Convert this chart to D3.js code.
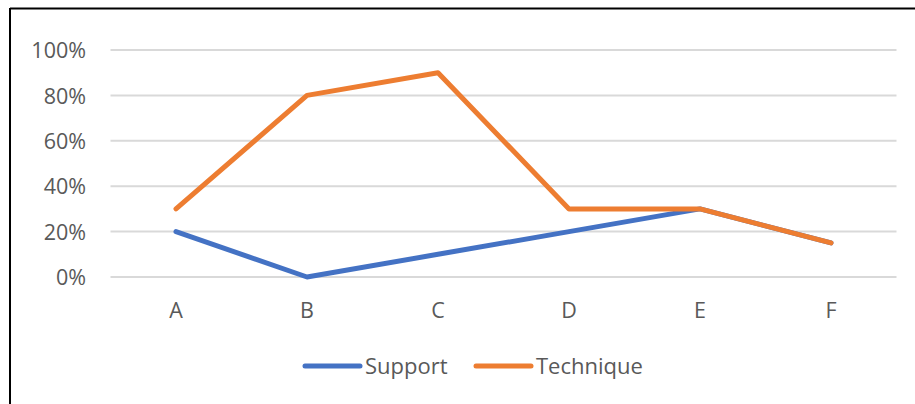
<!DOCTYPE html>
<html><head><meta charset="utf-8">
<script src="https://cdn.jsdelivr.net/npm/d3@7"></script>
<style>html,body{margin:0;padding:0;background:#fff;}svg{display:block;}</style>
</head><body>
<script>
const categories = ["A","B","C","D","E","F"];
const support = [0.20, 0.00, 0.10, 0.20, 0.30, 0.15];
const technique = [0.30, 0.80, 0.90, 0.30, 0.30, 0.15];
const yTicks = [0, 0.2, 0.4, 0.6, 0.8, 1.0];
const seriesNames = ["Support", "Technique"];
const colors = ["#4472C4", "#ED7D31"];

const W = 915, H = 404;
const svg = d3.select("body").append("svg").attr("width", W).attr("height", H);
const font = "'Open Sans', Lato, sans-serif";

// frame
svg.append("line").attr("x1", 10).attr("x2", W).attr("y1", 8.5).attr("y2", 8.5).attr("stroke", "#000").attr("stroke-width", 2);
svg.append("line").attr("x1", 10).attr("x2", 10).attr("y1", 8).attr("y2", H).attr("stroke", "#000").attr("stroke-width", 2);

const x = d3.scaleBand().domain(categories).range([110.5, 896.5]);
const y = d3.scaleLinear().domain([0, 1]).range([277, 50]);

// gridlines
svg.append("g").selectAll("line").data(yTicks).join("line")
  .attr("x1", 110.5).attr("x2", 896.5)
  .attr("y1", d => y(d)).attr("y2", d => y(d))
  .attr("stroke", "#d9d9d9").attr("stroke-width", 2);

// y axis labels
const yAxis = d3.axisLeft(y).tickValues(yTicks).tickFormat(d3.format(".0%")).tickSize(0).tickPadding(0);
const gy = svg.append("g").attr("transform", "translate(86,0)").call(yAxis);
gy.select(".domain").remove();
gy.selectAll("text").attr("font-family", font).attr("font-size", 21.5).attr("fill", "#595959").attr("dy", "0.36em");

// x axis labels
const xAxis = d3.axisBottom(x).tickSize(0).tickPadding(0);
const gx = svg.append("g").attr("transform", "translate(0,318)").call(xAxis);
gx.select(".domain").remove();
gx.selectAll("text").attr("font-family", font).attr("font-size", 21.5).attr("fill", "#595959").attr("dy", "0");

const line = d3.line().x((d, i) => x(categories[i]) + x.bandwidth() / 2).y(d => y(d));
[support, technique].forEach((s, i) => {
  svg.append("path").datum(s).attr("d", line)
    .attr("fill", "none").attr("stroke", colors[i]).attr("stroke-width", 5)
    .attr("stroke-linejoin", "round").attr("stroke-linecap", "round");
});

// legend
const legendX = [305, 476];
seriesNames.forEach((n, i) => {
  svg.append("line").attr("x1", legendX[i]).attr("x2", legendX[i] + 55).attr("y1", 366).attr("y2", 366)
    .attr("stroke", colors[i]).attr("stroke-width", 5).attr("stroke-linecap", "round");
  svg.append("text").attr("x", legendX[i] + 60).attr("y", 366).attr("dy", "0.36em")
    .attr("font-family", font).attr("font-size", 22).attr("fill", "#595959").text(n);
});
</script>
</body></html>
